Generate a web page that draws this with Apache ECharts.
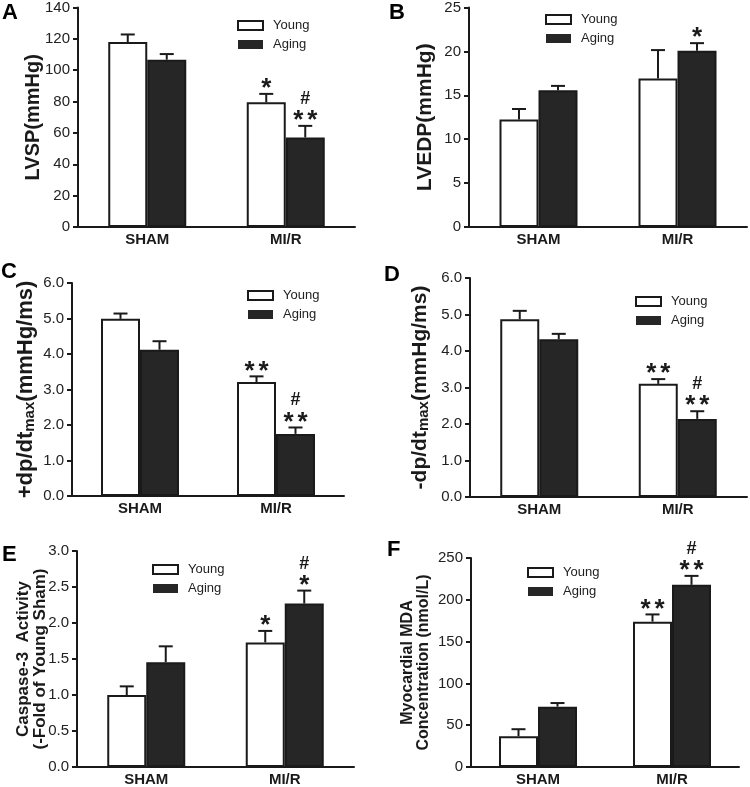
<!DOCTYPE html>
<html><head><meta charset="utf-8">
<script src="https://cdn.jsdelivr.net/npm/echarts@6/dist/echarts.min.js"></script>
<style>html,body{margin:0;padding:0;background:#fff}#c{width:750px;height:787px}</style>
</head><body><div id="c"></div>
<script>
// ---------- DATA ----------
const categories = ['SHAM', 'MI/R'];
const seriesNames = ['Young', 'Aging'];

// A: LVSP (mmHg)
const lvspYoung = [118.0, 79.5];
const lvspYoungSem = [4.8, 5.4];
const lvspAging = [106.7, 57.1];
const lvspAgingSem = [3.6, 7.4];
const lvspYoungStars = ['', '*'];
const lvspAgingStars = ['', '**'];
const lvspAgingHash = ['', '#'];
const lvspTicks = [0, 20, 40, 60, 80, 100, 120, 140];

// B: LVEDP (mmHg)
const lvedpYoung = [12.24, 16.9];
const lvedpYoungSem = [1.2, 3.25];
const lvedpAging = [15.57, 20.08];
const lvedpAgingSem = [0.5, 0.86];
const lvedpYoungStars = ['', ''];
const lvedpAgingStars = ['', '*'];
const lvedpAgingHash = ['', ''];
const lvedpTicks = [0, 5, 10, 15, 20, 25];

// C: +dp/dtmax (mmHg/ms)
const posDpYoung = [4.99, 3.21];
const posDpYoungSem = [0.15, 0.16];
const posDpAging = [4.12, 1.75];
const posDpAgingSem = [0.24, 0.18];
const posDpYoungStars = ['', '**'];
const posDpAgingStars = ['', '**'];
const posDpAgingHash = ['', '#'];
const posDpTicks = [0, 1, 2, 3, 4, 5, 6];

// D: -dp/dtmax (mmHg/ms)
const negDpYoung = [4.87, 3.10];
const negDpYoungSem = [0.23, 0.13];
const negDpAging = [4.32, 2.14];
const negDpAgingSem = [0.15, 0.21];
const negDpYoungStars = ['', '**'];
const negDpAgingStars = ['', '**'];
const negDpAgingHash = ['', '#'];
const negDpTicks = [0, 1, 2, 3, 4, 5, 6];

// E: Caspase-3 activity (fold of young sham)
const caspYoung = [1.0, 1.73];
const caspYoungSem = [0.12, 0.16];
const caspAging = [1.456, 2.27];
const caspAgingSem = [0.22, 0.18];
const caspYoungStars = ['', '*'];
const caspAgingStars = ['', '*'];
const caspAgingHash = ['', '#'];
const caspTicks = [0, 0.5, 1.0, 1.5, 2.0, 2.5, 3.0];

// F: Myocardial MDA (nmol/L)
const mdaYoung = [36.9, 173.8];
const mdaYoungSem = [8.3, 8.7];
const mdaAging = [72.2, 217.9];
const mdaAgingSem = [4.3, 10.7];
const mdaYoungStars = ['', '**'];
const mdaAgingStars = ['', '**'];
const mdaAgingHash = ['', '#'];
const mdaTicks = [0, 50, 100, 150, 200, 250];

// ---------- LAYOUT / STYLE ----------
const FONT = 'Liberation Sans, Arial, sans-serif';
const INK = '#1a1a1a';
const BAR_W = 39;

const panels = [
  { letter: 'A', lx: 2, ly: 2, grid: { left: 78, top: 7, width: 277, height: 220 },
    ticks: lvspTicks, dec: 0,
    name: 'LVSP(mmHg)', nameSize: 20, nameGap: 35,
    legend: { left: 232, top: 14 },
    young: lvspYoung, youngSem: lvspYoungSem, aging: lvspAging, agingSem: lvspAgingSem,
    youngStars: lvspYoungStars, agingStars: lvspAgingStars, youngHash: ['', ''], agingHash: lvspAgingHash },
  { letter: 'B', lx: 389, ly: 2, grid: { left: 469, top: 7, width: 278, height: 220 },
    ticks: lvedpTicks, dec: 0,
    name: 'LVEDP(mmHg)', nameSize: 21, nameGap: 33,
    legend: { left: 540, top: 8 },
    young: lvedpYoung, youngSem: lvedpYoungSem, aging: lvedpAging, agingSem: lvedpAgingSem,
    youngStars: lvedpYoungStars, agingStars: lvedpAgingStars, youngHash: ['', ''], agingHash: lvedpAgingHash },
  { letter: 'C', lx: 1, ly: 261, grid: { left: 72, top: 283, width: 272, height: 213 },
    ticks: posDpTicks, dec: 1,
    name: '{m|+dp/dt}{s|max}{m|(mmHg/ms)}', rich: true, nameSize: 22, nameGap: 35,
    legend: { left: 242, top: 284 },
    young: posDpYoung, youngSem: posDpYoungSem, aging: posDpAging, agingSem: posDpAgingSem,
    youngStars: posDpYoungStars, agingStars: posDpAgingStars, youngHash: ['', ''], agingHash: posDpAgingHash },
  { letter: 'D', lx: 384, ly: 264, grid: { left: 470, top: 278, width: 277, height: 219 },
    ticks: negDpTicks, dec: 1,
    name: '{m|-dp/dt}{s|max}{m|(mmHg/ms)}', rich: true, nameSize: 21, nameGap: 39,
    legend: { left: 630, top: 290 },
    young: negDpYoung, youngSem: negDpYoungSem, aging: negDpAging, agingSem: negDpAgingSem,
    youngStars: negDpYoungStars, agingStars: negDpAgingStars, youngHash: ['', ''], agingHash: negDpAgingHash },
  { letter: 'E', lx: 2, ly: 544, grid: { left: 77, top: 551, width: 277, height: 219 },
    ticks: caspTicks, dec: 1,
    name: 'Caspase-3  Activity\n(-Fold of Young Sham)', nameSize: 17, lineH: 17, nameGap: 28,
    legend: { left: 147, top: 558 },
    young: caspYoung, youngSem: caspYoungSem, aging: caspAging, agingSem: caspAgingSem,
    youngStars: caspYoungStars, agingStars: caspAgingStars, youngHash: ['', ''], agingHash: caspAgingHash },
  { letter: 'F', lx: 387, ly: 539, grid: { left: 471, top: 558, width: 268, height: 210 },
    ticks: mdaTicks, dec: 0,
    name: 'Myocardial MDA\nConcentration (nmol/L)', nameSize: 16, lineH: 16, nameGap: 39,
    legend: { left: 522, top: 561 },
    young: mdaYoung, youngSem: mdaYoungSem, aging: mdaAging, agingSem: mdaAgingSem,
    youngStars: mdaYoungStars, agingStars: mdaAgingStars, youngHash: ['', ''], agingHash: mdaAgingHash }
];

function errRenderer(side, stars, hashes) {
  return function (params, api) {
    const ci = api.value(0), mean = api.value(1), sem = api.value(2);
    const base = api.coord([ci, mean]);
    const top = api.coord([ci, mean + sem]);
    const x = base[0] + side * BAR_W / 2;
    const children = [
      { type: 'line', shape: { x1: x, y1: base[1], x2: x, y2: top[1] }, style: { stroke: INK, lineWidth: 2 } },
      { type: 'line', shape: { x1: x - 7, y1: top[1], x2: x + 7, y2: top[1] }, style: { stroke: INK, lineWidth: 2 } }
    ];
    const s = stars[params.dataIndex] || '';
    const n = s.length;
    for (let i = 0; i < n; i++) {
      children.push({ type: 'text', x: x + (i - (n - 1) / 2) * 14, y: top[1] - 5,
        style: { text: s[i], font: 'bold 26px ' + FONT, fill: INK, align: 'center', verticalAlign: 'middle' } });
    }
    const h = hashes[params.dataIndex] || '';
    if (h) {
      children.push({ type: 'text', x: x, y: top[1] - 27,
        style: { text: h, font: 'bold 18px ' + FONT, fill: INK, align: 'center', verticalAlign: 'middle' } });
    }
    return { type: 'group', children: children };
  };
}

const option = { animation: false, backgroundColor: '#fff', grid: [], xAxis: [], yAxis: [], series: [], legend: [], graphic: [] };

panels.forEach((p, i) => {
  option.grid.push(Object.assign({ containLabel: false }, p.grid));
  option.xAxis.push({
    type: 'category', gridIndex: i, data: categories,
    axisLine: { show: true, lineStyle: { color: INK, width: 2 } },
    axisTick: { show: false },
    axisLabel: { fontFamily: FONT, fontWeight: 'bold', fontSize: 15, color: INK, margin: 5 }
  });
  const nts = p.rich
    ? { fontFamily: FONT, rich: {
        m: { fontFamily: FONT, fontWeight: 'bold', fontSize: p.nameSize, color: INK, verticalAlign: 'bottom', lineHeight: p.nameSize + 2 },
        s: { fontFamily: FONT, fontWeight: 'bold', fontSize: 15, color: INK, verticalAlign: 'bottom', lineHeight: 12 } } }
    : { fontFamily: FONT, fontWeight: 'bold', fontSize: p.nameSize, color: INK, lineHeight: p.lineH || p.nameSize };
  option.yAxis.push({
    type: 'value', gridIndex: i,
    min: p.ticks[0], max: p.ticks[p.ticks.length - 1], interval: p.ticks[1] - p.ticks[0],
    name: p.name, nameLocation: 'middle', nameRotate: 90, nameGap: p.nameGap, nameTextStyle: nts,
    nameMoveOverlap: false,
    axisLine: { show: true, lineStyle: { color: INK, width: 2 } },
    axisTick: { show: true, length: 5, lineStyle: { color: INK, width: 2 } },
    splitLine: { show: false },
    axisLabel: { fontFamily: FONT, fontSize: 15, color: '#222', margin: 8,
      formatter: v => Number(v).toFixed(p.dec) }
  });
  option.series.push({
    name: seriesNames[0], type: 'bar', xAxisIndex: i, yAxisIndex: i, data: p.young,
    barWidth: BAR_W, barGap: '0%',
    itemStyle: { color: '#fff', borderColor: INK, borderWidth: 2 }
  });
  option.series.push({
    name: seriesNames[1], type: 'bar', xAxisIndex: i, yAxisIndex: i, data: p.aging,
    barWidth: BAR_W, barGap: '0%',
    itemStyle: { color: '#262626', borderColor: INK, borderWidth: 2 }
  });
  option.series.push({
    name: 'err-y-' + i, type: 'custom', xAxisIndex: i, yAxisIndex: i, z: 5,
    encode: { x: 0, y: 1 },
    data: p.young.map((v, k) => [k, v, p.youngSem[k]]),
    renderItem: errRenderer(-1, p.youngStars, p.youngHash)
  });
  option.series.push({
    name: 'err-a-' + i, type: 'custom', xAxisIndex: i, yAxisIndex: i, z: 5,
    encode: { x: 0, y: 1 },
    data: p.aging.map((v, k) => [k, v, p.agingSem[k]]),
    renderItem: errRenderer(1, p.agingStars, p.agingHash)
  });
  option.legend.push({
    left: p.legend.left, top: p.legend.top, orient: 'vertical',
    itemWidth: 25, itemHeight: 9, itemGap: 6, selectedMode: false,
    textStyle: { fontFamily: FONT, fontSize: 13, color: '#222', padding: [0, 0, 0, 5] },
    data: [
      { name: seriesNames[0], icon: 'rect', itemStyle: { color: '#fff', borderColor: INK, borderWidth: 2 } },
      { name: seriesNames[1], icon: 'rect', itemStyle: { color: '#262626', borderColor: INK, borderWidth: 0 } }
    ]
  });
  option.graphic.push({
    type: 'text', left: p.lx, top: p.ly,
    style: { text: p.letter, font: 'bold 22px ' + FONT, fill: '#000' }
  });
});

const chart = echarts.init(document.getElementById('c'), null, { renderer: 'canvas' });
chart.setOption(option);
</script>
</body></html>
